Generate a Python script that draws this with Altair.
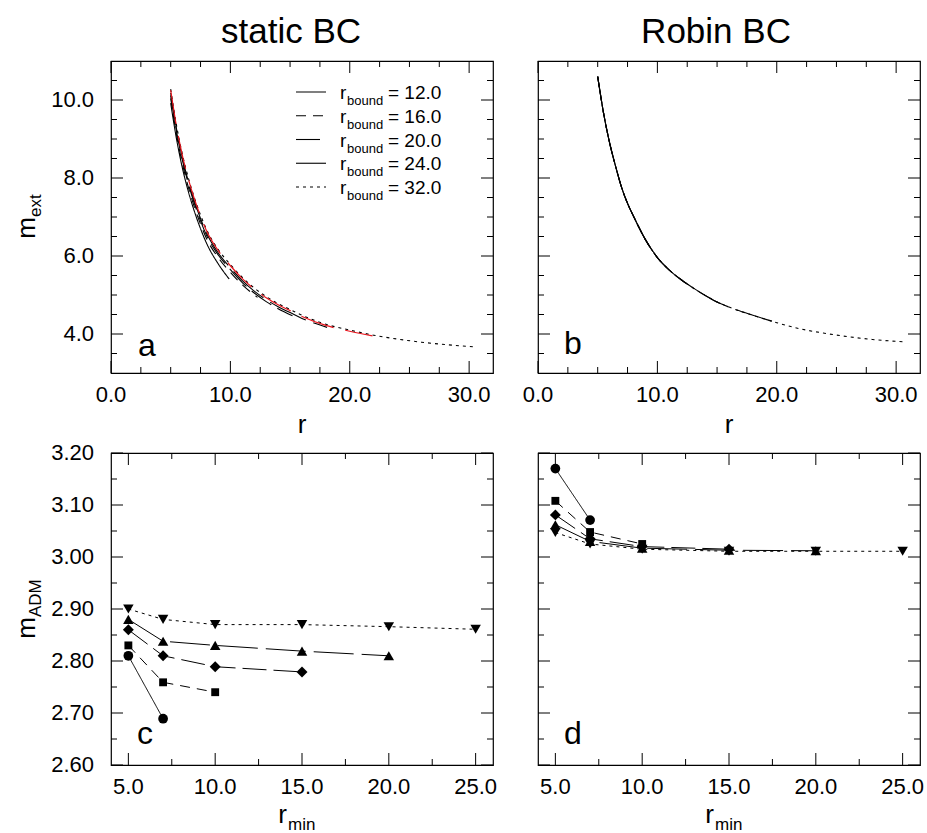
import altair as alt
import pandas as pd

# ---------------- data ----------------
SERIES = ["12.0", "16.0", "20.0", "24.0", "32.0"]

# panel a: static BC, m_ext vs r
a_r_12 = [5.0, 5.5, 6.0, 6.5, 7.0, 7.5, 8.0, 9.0, 9.9]
a_m_12 = [9.92, 8.98, 8.23, 7.63, 7.13, 6.70, 6.33, 5.79, 5.41]
a_r_16 = [5.0, 5.5, 6.0, 6.5, 7.0, 7.5, 8.0, 9.0, 10.0, 11.0, 12.27]
a_m_16 = [10.04, 9.09, 8.34, 7.74, 7.24, 6.82, 6.45, 5.95, 5.58, 5.26, 4.94]
a_r_20 = [5.0, 5.5, 6.0, 6.5, 7.0, 7.5, 8.0, 9.0, 10.0, 11.0, 12.0, 13.0, 14.0, 15.2]
a_m_20 = [10.12, 9.18, 8.43, 7.83, 7.33, 6.90, 6.53, 6.02, 5.65, 5.32, 5.05, 4.83, 4.65, 4.47]
a_r_24 = [5.0, 5.5, 6.0, 6.5, 7.0, 7.5, 8.0, 9.0, 10.0, 11.0, 12.0, 13.0, 14.0, 15.0, 16.0, 17.0, 18.1]
a_m_24 = [10.18, 9.24, 8.49, 7.89, 7.39, 6.96, 6.59, 6.07, 5.70, 5.37, 5.10, 4.88, 4.70, 4.55, 4.40, 4.28, 4.17]
a_r_32 = [5.0, 5.5, 6.0, 6.5, 7.0, 7.5, 8.0, 9.0, 10.0, 11.0, 12.0, 13.0, 14.0, 15.0, 16.0, 18.0, 20.0,
          22.0, 24.0, 26.0, 28.0, 30.4]
a_m_32 = [10.28, 9.33, 8.58, 7.98, 7.48, 7.05, 6.68, 6.16, 5.78, 5.45, 5.18, 4.96, 4.78, 4.63, 4.48, 4.25, 4.10,
          3.97, 3.87, 3.79, 3.73, 3.67]
a_r_red = [5.0, 5.5, 6.0, 6.5, 7.0, 7.5, 8.0, 9.0, 10.0, 11.0, 12.0, 13.0, 14.0, 15.0, 16.0, 18.0, 20.0, 21.9]
a_m_red = [10.25, 9.30, 8.55, 7.95, 7.45, 7.02, 6.65, 6.13, 5.75, 5.42, 5.15, 4.93, 4.75, 4.60, 4.45, 4.22, 4.07, 3.95]

# panel b: Robin BC, m_ext vs r
b_r_12 = [5.0, 5.5, 6.0, 6.5, 7.0, 7.5, 8.0, 9.0, 10.0]
b_m_12 = [10.6, 9.65, 8.9, 8.3, 7.76, 7.35, 7.02, 6.42, 5.96]
b_r_16 = [5.0, 5.5, 6.0, 6.5, 7.0, 7.5, 8.0, 9.0, 10.0, 11.0, 12.0, 12.4]
b_m_16 = [10.6, 9.65, 8.9, 8.3, 7.76, 7.35, 7.02, 6.42, 5.96, 5.64, 5.39, 5.30]
b_r_20 = [5.0, 5.5, 6.0, 6.5, 7.0, 7.5, 8.0, 9.0, 10.0, 11.0, 12.0, 13.0, 14.0, 15.0, 15.3]
b_m_20 = [10.6, 9.65, 8.9, 8.3, 7.76, 7.35, 7.02, 6.42, 5.96, 5.64, 5.39, 5.18, 4.99, 4.82, 4.78]
b_r_24 = [5.0, 5.5, 6.0, 6.5, 7.0, 7.5, 8.0, 9.0, 10.0, 11.0, 12.0, 13.0, 14.0, 15.0, 16.0, 18.0, 19.6]
b_m_24 = [10.6, 9.65, 8.9, 8.3, 7.76, 7.35, 7.02, 6.42, 5.96, 5.64, 5.39, 5.18, 4.99, 4.82, 4.69, 4.48, 4.33]
b_r_32 = [5.0, 5.5, 6.0, 6.5, 7.0, 7.5, 8.0, 9.0, 10.0, 11.0, 12.0, 13.0, 14.0, 15.0, 16.0, 18.0, 20.0,
          22.0, 24.0, 26.0, 28.0, 30.6]
b_m_32 = [10.6, 9.65, 8.9, 8.3, 7.76, 7.35, 7.02, 6.42, 5.96, 5.64, 5.39, 5.18, 4.99, 4.82, 4.69, 4.48, 4.29,
          4.13, 4.02, 3.93, 3.86, 3.80]

# panels c, d: m_ADM vs r_min
rmin_12 = [5, 7]
rmin_16 = [5, 7, 10]
rmin_20 = [5, 7, 10, 15]
rmin_24 = [5, 7, 10, 15, 20]
rmin_32 = [5, 7, 10, 15, 20, 25]
c_m_12 = [2.810, 2.689]
c_m_16 = [2.830, 2.759, 2.740]
c_m_20 = [2.860, 2.810, 2.789, 2.779]
c_m_24 = [2.880, 2.838, 2.830, 2.819, 2.810]
c_m_32 = [2.900, 2.880, 2.870, 2.870, 2.866, 2.861]
d_m_12 = [3.170, 3.071]
d_m_16 = [3.108, 3.048, 3.025]
d_m_20 = [3.081, 3.035, 3.020, 3.015]
d_m_24 = [3.062, 3.030, 3.017, 3.013, 3.012]
d_m_32 = [3.047, 3.025, 3.015, 3.011, 3.011, 3.011]

# axis ticks / labels
ab_x_major = [0, 10, 20, 30]
ab_x_minor = [2.5, 5, 7.5, 12.5, 15, 17.5, 22.5, 25, 27.5]
ab_y_major = [4, 6, 8, 10]
ab_y_minor = [3.5, 4.5, 5, 5.5, 6.5, 7, 7.5, 8.5, 9, 9.5, 10.5]
cd_x_major = [5, 10, 15, 20, 25]
cd_x_minor = [7.5, 12.5, 17.5, 22.5]
cd_y_major = [2.6, 2.7, 2.8, 2.9, 3.0, 3.1, 3.2]
cd_y_minor = [2.65, 2.75, 2.85, 2.95, 3.05, 3.15]

# ---------------- style ----------------
W, H = 382, 312
FONT = "Liberation Sans"
DASHES = [[1, 0], [10, 7], [24, 7], [40, 8], [3, 4]]
SHAPES = ["circle", "square", "diamond", "triangle-up", "triangle-down"]
SIZES = [95, 62, 120, 110, 110]

xs_ab = alt.Scale(domain=[0, 32], nice=False, zero=False)
ys_ab = alt.Scale(domain=[3, 11], nice=False, zero=False)
xs_cd = alt.Scale(domain=[4, 26], nice=False, zero=False)
ys_cd = alt.Scale(domain=[2.6, 3.2], nice=False, zero=False)


def long_df(rs, ms):
    rows = []
    for rr, mm, lab in zip(rs, ms, SERIES):
        for x, y in zip(rr, mm):
            rows.append({"r": x, "m": y, "series": lab})
    return pd.DataFrame(rows)


def ticks(xsc, ysc, xmaj, xmin, ymaj, ymin, L=12, l=6):
    out = []
    for vals, ln in ((xmaj, L), (xmin, l)):
        base = alt.Chart(pd.DataFrame({"v": vals})).mark_rule(color="black", strokeWidth=1)
        out.append(base.encode(x=alt.X("v:Q", scale=xsc, axis=None), y=alt.value(H), y2=alt.value(H - ln)))
        out.append(base.encode(x=alt.X("v:Q", scale=xsc, axis=None), y=alt.value(0), y2=alt.value(ln)))
    for vals, ln in ((ymaj, L), (ymin, l)):
        base = alt.Chart(pd.DataFrame({"v": vals})).mark_rule(color="black", strokeWidth=1)
        out.append(base.encode(y=alt.Y("v:Q", scale=ysc, axis=None), x=alt.value(0), x2=alt.value(ln)))
        out.append(base.encode(y=alt.Y("v:Q", scale=ysc, axis=None), x=alt.value(W), x2=alt.value(W - ln)))
    return out


def xlabels(vals, xsc, decimals):
    df = pd.DataFrame({"v": vals, "lab": [f"{v:.{decimals}f}" for v in vals]})
    return alt.Chart(df).mark_text(align="center", baseline="alphabetic", fontSize=22, font=FONT,
                                   color="black").encode(
        x=alt.X("v:Q", scale=xsc, axis=None), y=alt.value(H + 29), text="lab:N")


def ylabels(vals, ysc, decimals):
    df = pd.DataFrame({"v": vals, "lab": [f"{v:.{decimals}f}" for v in vals]})
    return alt.Chart(df).mark_text(align="right", baseline="middle", fontSize=22, font=FONT,
                                   color="black").encode(
        y=alt.Y("v:Q", scale=ysc, axis=None), x=alt.value(-17), text="lab:N")


def txt(s, x, y, size, align="left", angle=0, font=FONT):
    return alt.Chart(pd.DataFrame({"t": [s]})).mark_text(
        align=align, baseline="alphabetic", fontSize=size, font=font, color="black", angle=angle
    ).encode(text="t:N", x=alt.value(x), y=alt.value(y))


dash_enc = alt.StrokeDash("series:N", scale=alt.Scale(domain=SERIES, range=DASHES), legend=None)

# ---------------- panel a ----------------
df_a = long_df([a_r_12, a_r_16, a_r_20, a_r_24, a_r_32], [a_m_12, a_m_16, a_m_20, a_m_24, a_m_32])
df_red = pd.DataFrame({"r": a_r_red, "m": a_m_red})
red = alt.Chart(df_red).mark_line(color="#e8141c", strokeWidth=1.2, strokeDash=[34, 12],
                                  interpolate="monotone").encode(
    x=alt.X("r:Q", scale=xs_ab, axis=None), y=alt.Y("m:Q", scale=ys_ab, axis=None))
lines_a = alt.Chart(df_a).mark_line(color="black", strokeWidth=1.1, interpolate="monotone").encode(
    x=alt.X("r:Q", scale=xs_ab, axis=None),
    y=alt.Y("m:Q", scale=ys_ab, axis=None),
    strokeDash=dash_enc, detail="series:N")

legend_layers = []
for i, lab in enumerate(SERIES):
    yy = 31 + i * 23.75
    legend_layers.append(
        alt.Chart(pd.DataFrame({"k": [lab]})).mark_rule(color="black", strokeWidth=1.1,
                                                        strokeDash=DASHES[i]).encode(
            x=alt.value(185), x2=alt.value(215), y=alt.value(yy)))
    legend_layers.append(txt("r", 229, yy + 7, 19))
    legend_layers.append(txt("bound", 236, yy + 13, 13))
    legend_layers.append(txt("= " + lab, 277, yy + 7, 19))

anchor = alt.Chart(pd.DataFrame({"k": [0]})).mark_rule(opacity=0, strokeWidth=0.01).encode(
    x=alt.value(-110), x2=alt.value(-109), y=alt.value(-60), y2=alt.value(-59))

panel_a = alt.layer(
    anchor, lines_a, red, *ticks(xs_ab, ys_ab, ab_x_major, ab_x_minor, ab_y_major, ab_y_minor),
    xlabels(ab_x_major, xs_ab, 1), ylabels(ab_y_major, ys_ab, 1),
    *legend_layers,
    txt("a", 27, 295, 32),
    txt("static BC", W / 2 - 11, -18, 35, align="center"),
    txt("r", W / 2, H + 60, 26, align="center"),
    txt("m", -76, H / 2, 26, align="right", angle=270),
    txt("ext", -70, H / 2, 17, align="left", angle=270),
).properties(width=W, height=H)

# ---------------- panel b ----------------
df_b = long_df([b_r_12, b_r_16, b_r_20, b_r_24, b_r_32], [b_m_12, b_m_16, b_m_20, b_m_24, b_m_32])
lines_b = alt.Chart(df_b).mark_line(color="black", strokeWidth=1.1, interpolate="monotone").encode(
    x=alt.X("r:Q", scale=xs_ab, axis=None),
    y=alt.Y("m:Q", scale=ys_ab, axis=None),
    strokeDash=dash_enc, detail="series:N")
panel_b = alt.layer(
    lines_b, *ticks(xs_ab, ys_ab, ab_x_major, ab_x_minor, ab_y_major, ab_y_minor),
    xlabels(ab_x_major, xs_ab, 1),
    txt("b", 26, 293, 32),
    txt("Robin BC", W / 2 - 13, -18, 35, align="center"),
    txt("r", W / 2, H + 60, 26, align="center"),
).properties(width=W, height=H)


# ---------------- panels c, d ----------------
def madm_panel(ms, letter, with_y):
    rs = [rmin_12, rmin_16, rmin_20, rmin_24, rmin_32]
    df = long_df(rs, ms)
    ln = alt.Chart(df).mark_line(color="black", strokeWidth=1).encode(
        x=alt.X("r:Q", scale=xs_cd, axis=None),
        y=alt.Y("m:Q", scale=ys_cd, axis=None),
        strokeDash=dash_enc, detail="series:N")
    pts = []
    for rr, mm, shp, sz in zip(rs, ms, SHAPES, SIZES):
        pts.append(alt.Chart(pd.DataFrame({"r": rr, "m": mm})).mark_point(
            filled=True, color="black", opacity=1, shape=shp, size=sz).encode(
            x=alt.X("r:Q", scale=xs_cd, axis=None),
            y=alt.Y("m:Q", scale=ys_cd, axis=None)))
    layers = [ln, *pts, *ticks(xs_cd, ys_cd, cd_x_major, cd_x_minor, cd_y_major, cd_y_minor),
              xlabels(cd_x_major, xs_cd, 1),
              txt(letter, 26, 291, 32),
              txt("r", W / 2 - 15, H + 58, 26, align="right"),
              txt("min", W / 2 - 14, H + 65, 17, align="left")]
    if with_y:
        layers += [ylabels(cd_y_major, ys_cd, 2),
                   txt("m", -76, H / 2 + 8, 26, align="right", angle=270),
                   txt("ADM", -70, H / 2 + 8, 17, align="left", angle=270)]
    return alt.layer(*layers).properties(width=W, height=H)


panel_c = madm_panel([c_m_12, c_m_16, c_m_20, c_m_24, c_m_32], "c", True)
panel_d = madm_panel([d_m_12, d_m_16, d_m_20, d_m_24, d_m_32], "d", False)

chart = alt.concat(
    panel_a, panel_b, panel_c, panel_d, columns=2,
    spacing=alt.RowColnumber(row=80, column=45), bounds="flush"
).properties(padding=0, background="white").configure_view(stroke="black", strokeWidth=1.2)

chart.save("out.html", embed_options={"renderer": "svg", "actions": False})
